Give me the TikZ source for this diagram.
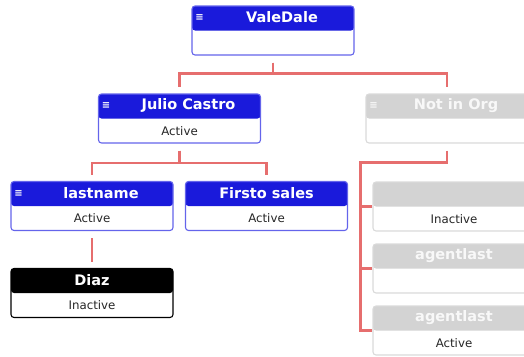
\documentclass[tikz,border=0pt]{standalone}
\usepackage{fontspec}
\setmainfont{DejaVu Sans}
\usetikzlibrary{positioning}

\definecolor{hdblue}{RGB}{26,26,219}
\definecolor{edgeblue}{RGB}{100,100,235}
\definecolor{hdgray}{RGB}{211,211,211}
\definecolor{edgegray}{RGB}{218,218,218}
\definecolor{linkred}{RGB}{230,110,110}

\tikzset{
  card/.style 2 args={draw=#1, rounded corners=3pt, line width=1.1pt, fill=white,
    minimum width=162pt, minimum height=49pt, inner sep=0pt,
    path picture={\fill[#2] (path picture bounding box.north west)
      rectangle ([yshift=-24.5pt]path picture bounding box.north east);}},
  title/.style={font=\bfseries\fontsize{14.5}{16}\selectfont, text=white, inner sep=0pt},
  status/.style={font=\fontsize{11.8}{13}\selectfont, text=black!85, inner sep=0pt},
  icon/.style={font=\bfseries\fontsize{10}{10}\selectfont, text=white, inner sep=0pt},
  link/.style={draw=linkred, line width=2.2pt},
  gap/.style={shorten <=7pt, shorten >=6pt}
}

\begin{document}
\begin{tikzpicture}[x=1pt, y=-1pt]
        \useasboundingbox (0,0) rectangle (524,356);
        \clip (0,0) rectangle (524,356);

        % Schede
        \node[card={edgeblue}{hdblue}] (vale) at (273,30.5) {};
        \node[card={edgeblue}{hdblue}] (julio) at (179.5,118.5) {};
        \node[card={edgegray}{hdgray}] (noorg) at (447,118.5) {};
        \node[card={edgeblue}{hdblue}] (lname) at (92,206) {};
        \node[card={edgeblue}{hdblue}] (firsto) at (266.5,206) {};
        \node[card={black}{black}] (diaz) at (92,293) {};
        \foreach \n/\y in {gA/206.5, gB/268.5, gC/330.5} {
            \node[card={edgegray}{hdgray}] (\n) at (454,\y) {};
        }

        % Icone
        \foreach \n in {vale, julio, lname} {
            \node[icon] (\n-i) at ([xshift=8pt,yshift=-12.5pt]\n.north west) {≡};
        }
        \node[icon, text=white!85!hdgray] (noorg-i) at ([xshift=8pt,yshift=-12.5pt]noorg.north west) {≡};

        % Titoli
        \node[title] (vale-t) at ([xshift=9pt,yshift=-12pt]vale.north) {ValeDale};
        \node[title] (julio-t) at ([xshift=9pt,yshift=-12pt]julio.north) {Julio Castro};
        \node[title, text=white!85!hdgray] (noorg-t) at ([xshift=9pt,yshift=-12pt]noorg.north) {Not in Org};
        \node[title] (lname-t) at ([xshift=9pt,yshift=-12pt]lname.north) {lastname};
        \node[title] (firsto-t) at ([yshift=-12pt]firsto.north) {Firsto sales};
        \node[title] (diaz-t) at ([yshift=-12pt]diaz.north) {Diaz};
        \node[title, text=white!85!hdgray] (gB-t) at ([yshift=-12pt]gB.north) {agentlast};
        \node[title, text=white!85!hdgray] (gC-t) at ([yshift=-12pt]gC.north) {agentlast};

        % Stato
        \foreach \n/\s in {julio/Active, lname/Active, firsto/Active, diaz/Inactive, gA/Inactive, gC/Active} {
            \node[status] (\n-s) at ([yshift=12.5pt]\n.south) {\s};
        }

        % Collegamenti
        \draw[link, gap] (vale.south) -- ++(0,18) -| (julio.north);
        \draw[link, gap] (vale.south) -- ++(0,18) -| (noorg.north);
        \draw[link, gap] (julio.south) -- ++(0,19.5) -| (lname.north);
        \draw[link, gap] (julio.south) -- ++(0,19.5) -| (firsto.north);
        \draw[link, gap] (lname.south) -- (diaz.north);
        \draw[link, shorten <=7pt] (noorg.south) -- ++(0,19) -| ([xshift=-12pt]gC.west) -- (gC.west);
        \draw[link] (gA.west) -- ++(-12,0);
        \draw[link] (gB.west) -- ++(-12,0);
\end{tikzpicture}
\end{document}
